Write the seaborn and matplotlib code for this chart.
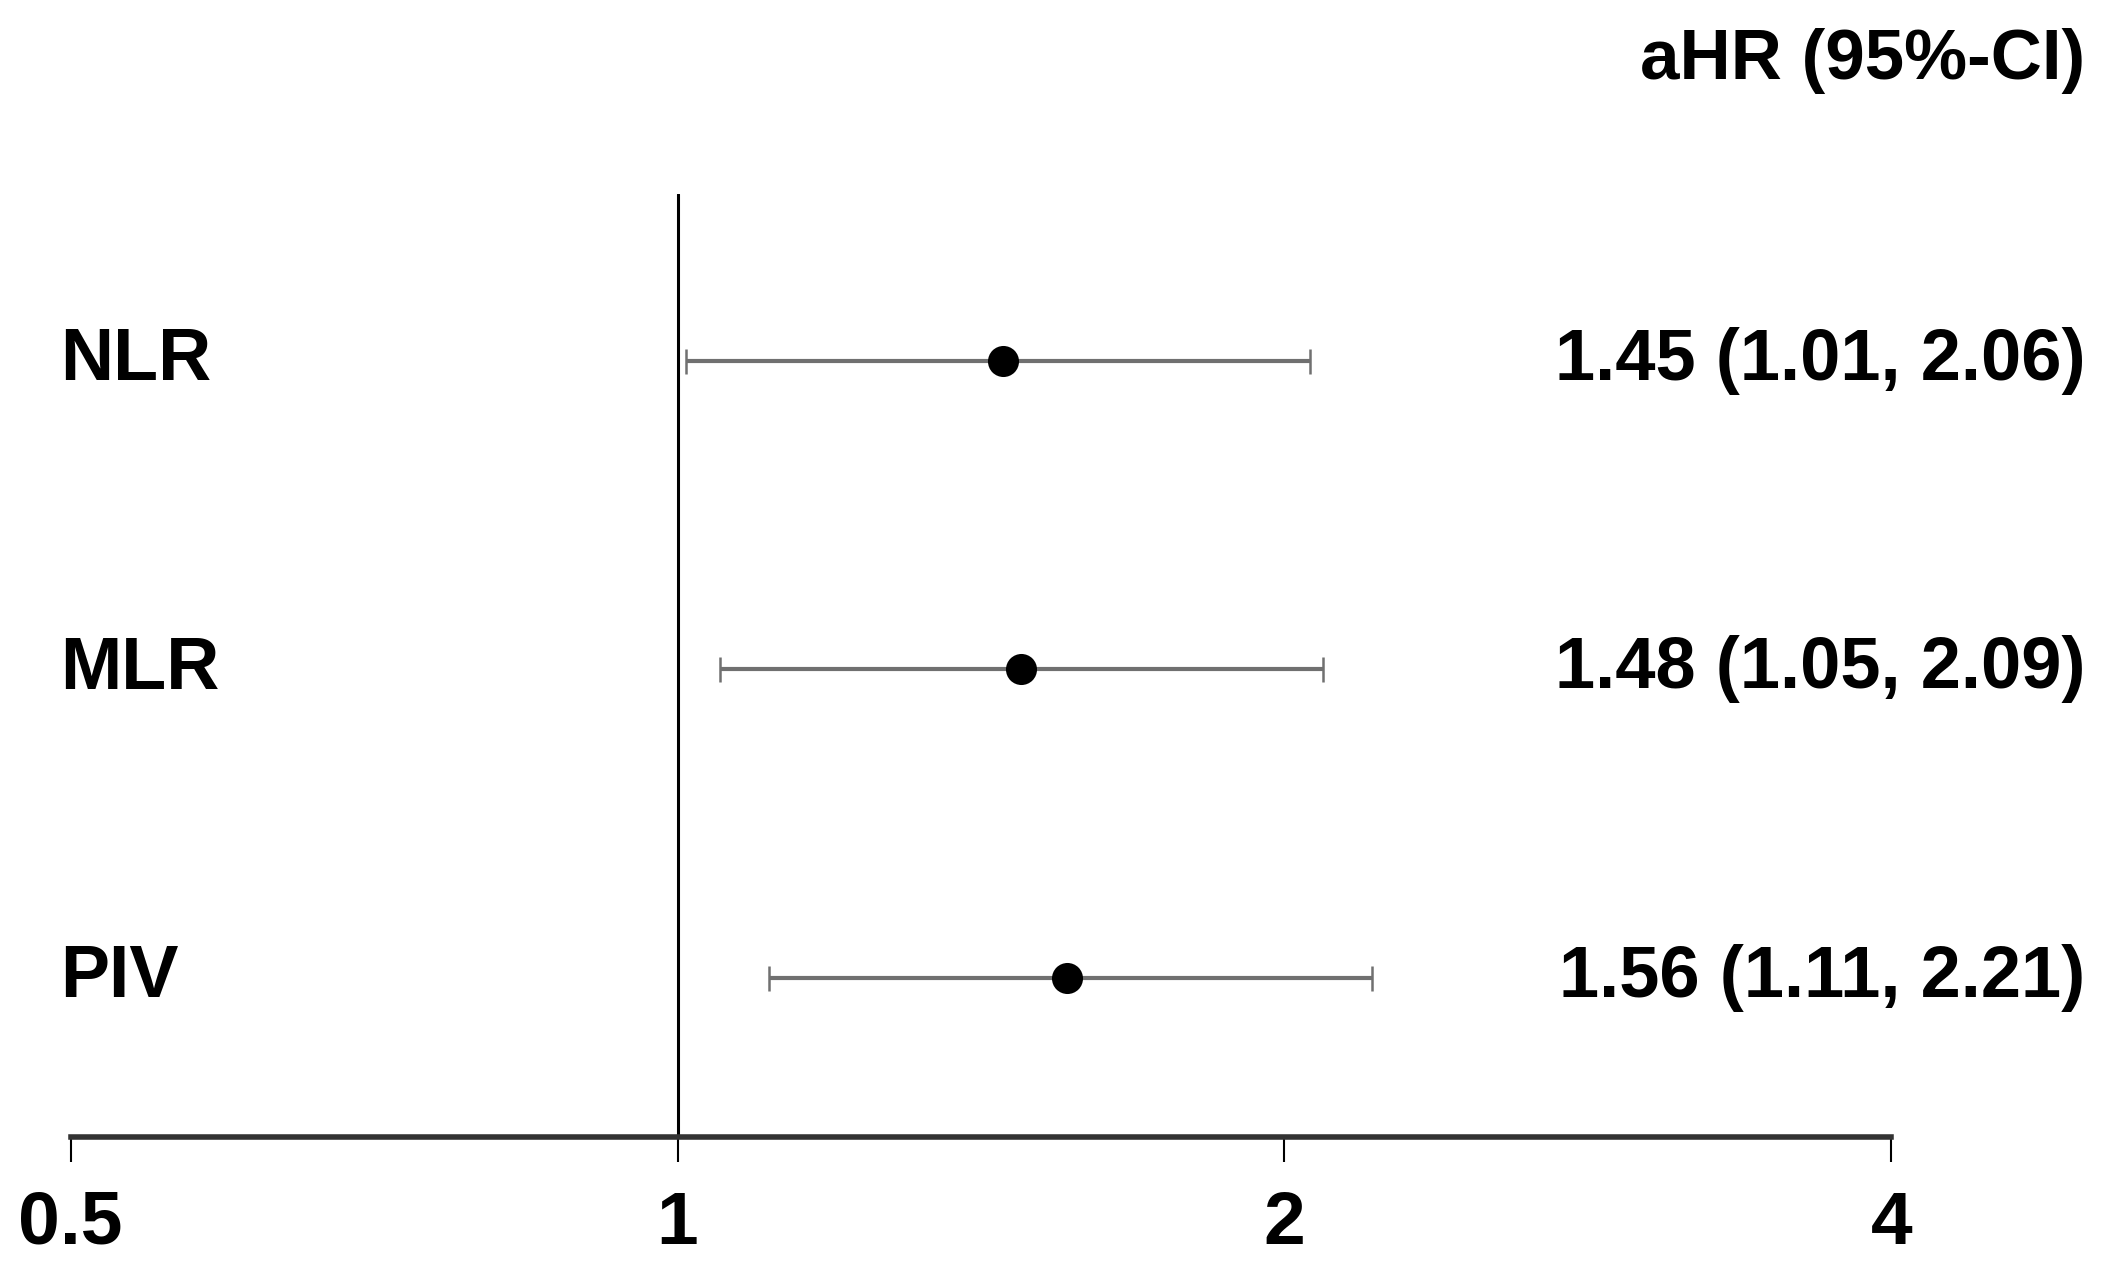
import seaborn as sns
import matplotlib.pyplot as plt
import matplotlib.ticker as mticker
import pandas as pd

labels = ['NLR', 'MLR', 'PIV']
hr = [1.45, 1.48, 1.56]
ci_low = [1.01, 1.05, 1.11]
ci_high = [2.06, 2.09, 2.21]
ypos = [3, 2, 1]
xticks = [0.5, 1, 2, 4]
xticklabels = ['0.5', '1', '2', '4']

df = pd.DataFrame({'var': labels, 'hr': hr, 'lo': ci_low, 'hi': ci_high, 'y': ypos})

sns.set_style('white')
plt.rcParams['font.family'] = ['Liberation Sans', 'DejaVu Sans']
plt.rcParams['text.color'] = 'black'
plt.rcParams['xtick.color'] = 'black'

fig = plt.figure(figsize=(21.28, 12.84), dpi=100)
ax = fig.add_axes([0.0332, 0.1145, 0.8556, 0.7345])

# CI whiskers
ax.errorbar(df['hr'], df['y'],
            xerr=[df['hr'] - df['lo'], df['hi'] - df['hr']],
            fmt='none', ecolor='#707070', elinewidth=3, capsize=9, capthick=1.8, zorder=2)
# point estimates
sns.scatterplot(data=df, x='hr', y='y', color='black', s=500, edgecolor='black',
                linewidth=0, zorder=3, ax=ax, legend=False)

ax.axvline(1, color='black', lw=2.2, zorder=1)

ax.set_xscale('log', base=2)
ax.set_xlim(0.5, 4)
ax.set_ylim(0.485, 3.54)
ax.xaxis.set_major_locator(mticker.FixedLocator(xticks))
ax.xaxis.set_minor_locator(mticker.NullLocator())
ax.set_xticklabels(xticklabels, fontsize=54, fontweight='bold', color='black')
ax.set_yticks([])
ax.set_xlabel('')
ax.set_ylabel('')
ax.tick_params(axis='x', direction='out', length=18, width=1.5, color='black', pad=20, bottom=True)

for s in ['top', 'right', 'left']:
    ax.spines[s].set_visible(False)
ax.spines['bottom'].set_linewidth(4)
ax.spines['bottom'].set_color('#333333')

tr = ax.get_yaxis_transform()
for _, r in df.iterrows():
    ax.text(-0.0058, r['y'], r['var'], transform=tr, ha='left', va='center',
            fontsize=53, fontweight='bold', color='black', clip_on=False)
    ax.text(1.1066, r['y'], f"{r['hr']:.2f} ({r['lo']:.2f}, {r['hi']:.2f})", transform=tr,
            ha='right', va='center', fontsize=52, fontweight='bold', color='black', clip_on=False)

ax.text(1.1066, 1.141, 'aHR (95%-CI)', transform=ax.transAxes, ha='right', va='center',
        fontsize=51, fontweight='bold', color='black', clip_on=False)

fig.savefig('out.png', dpi=100, facecolor='white')
